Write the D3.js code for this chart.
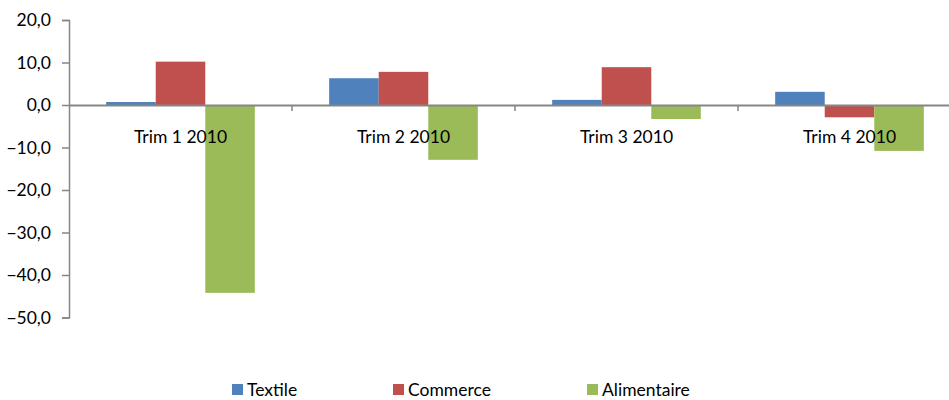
<!DOCTYPE html>
<html>
<head>
<meta charset="utf-8">
<script src="https://cdn.jsdelivr.net/npm/d3@7"></script>
<style>
  body { margin: 0; background: #fff; }
  svg { display: block; font-family: Lato, "Open Sans", sans-serif; }
</style>
</head>
<body>
<div id="chart"></div>
<script>
var width = 949;
var height = 400;

var categories = ["Trim 1 2010", "Trim 2 2010", "Trim 3 2010", "Trim 4 2010"];
var seriesNames = ["Textile", "Commerce", "Alimentaire"];
var textile = [0.7, 6.3, 1.2, 3.1];
var commerce = [10.2, 7.8, 8.9, -2.9];
var alimentaire = [-44.2, -12.9, -3.3, -10.8];
var colors = ["#4F81BD", "#C0504D", "#9BBB59"];
var yTicks = [20, 10, 0, -10, -20, -30, -40, -50];

var seriesValues = [textile, commerce, alimentaire];
var fontSize = "17.5px";

var svg = d3.select("#chart")
	.append("svg")
	.attr("width", width)
	.attr("height", height);

var x = d3.scaleBand()
	.domain(categories)
	.range([69, 961])
	.paddingInner(0)
	.paddingOuter(0);

var y = d3.scaleLinear()
	.domain([-50, 20])
	.range([317.5, 20]);

// inner scale for the 3 bars; gap width 150% like excel
var bw = x.bandwidth() / 4.5;
var xs = d3.scaleBand()
	.domain(seriesNames)
	.range([x.bandwidth() / 2 - 1.5 * bw, x.bandwidth() / 2 + 1.5 * bw]);

// bars
var groups = svg.append("g")
	.selectAll("g")
	.data(categories)
	.enter().append("g")
	.attr("transform", function(d) { return "translate(" + x(d) + ",0)"; });

groups.selectAll("rect")
	.data(function(d, i) {
		return seriesNames.map(function(s, j) { return {name: s, value: seriesValues[j][i], idx: j}; });
	})
	.enter().append("rect")
	.attr("x", function(d) { return xs(d.name); })
	.attr("width", xs.bandwidth())
	.attr("y", function(d) { return y(Math.max(0, d.value)); })
	.attr("height", function(d) { return Math.abs(y(d.value) - y(0)); })
	.attr("fill", function(d) { return colors[d.idx]; });

// y axis
var yAxis = d3.axisLeft(y)
	.tickValues(yTicks)
	.tickSize(7)
	.tickPadding(11)
	.tickFormat(function(d) { return d3.format(".1f")(d).replace(".", ","); });

var yg = svg.append("g")
	.attr("transform", "translate(69,0)")
	.call(yAxis);
yg.select(".domain").attr("stroke", "#868686").attr("stroke-width", 1.5);
yg.selectAll(".tick line").attr("stroke", "#868686").attr("stroke-width", 1.5);
yg.selectAll("text")
	.attr("fill", "#000")
	.style("font-size", fontSize)
	.style("font-family", "Lato, sans-serif");

// x axis on zero line
var xAxis = d3.axisBottom(x)
	.tickSize(0)
	.tickPadding(26);

var xg = svg.append("g")
	.attr("transform", "translate(0," + y(0) + ")")
	.call(xAxis);
xg.select(".domain").attr("stroke", "#868686").attr("stroke-width", 2);
xg.selectAll("text")
	.attr("fill", "#000")
	.style("font-size", fontSize)
	.style("font-family", "Lato, sans-serif");

// category boundary ticks
xg.selectAll(".sep")
	.data(categories.slice(1))
	.enter().append("line")
	.attr("x1", function(d) { return x(d); })
	.attr("x2", function(d) { return x(d); })
	.attr("y1", 0)
	.attr("y2", 6)
	.attr("stroke", "#868686")
	.attr("stroke-width", 1.5);

// legend
var legendX = [232, 393, 587];
var legend = svg.append("g")
	.selectAll("g")
	.data(seriesNames)
	.enter().append("g")
	.attr("transform", function(d, i) { return "translate(" + legendX[i] + ",384)"; });

legend.append("rect")
	.attr("width", 11)
	.attr("height", 11)
	.attr("fill", function(d, i) { return colors[i]; });

legend.append("text")
	.attr("x", 15)
	.attr("y", 11.5)
	.style("font-size", fontSize)
	.style("font-family", "Lato, sans-serif")
	.text(function(d) { return d; });
</script>
</body>
</html>
